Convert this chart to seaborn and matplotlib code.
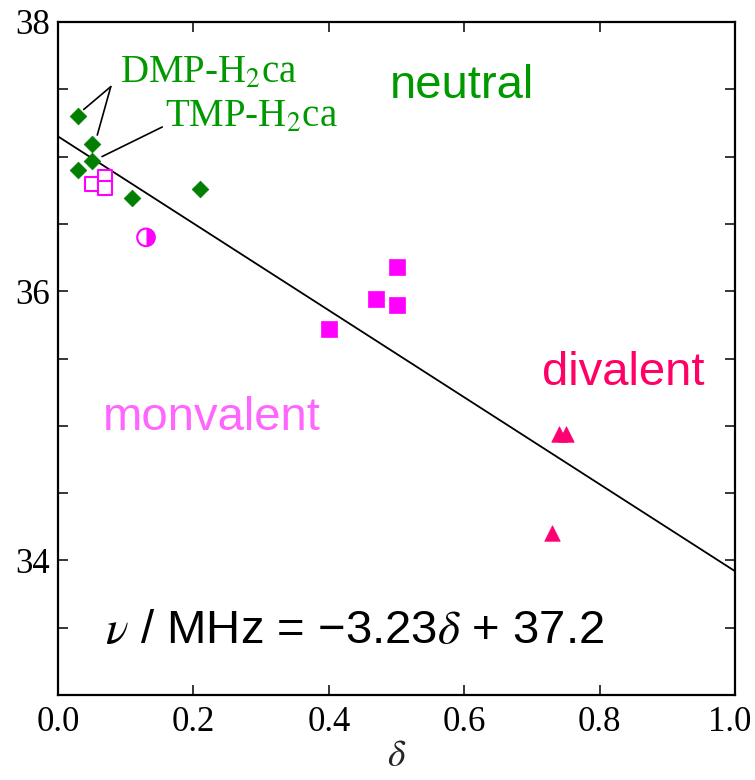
import matplotlib
matplotlib.use("Agg")
import matplotlib.pyplot as plt
from matplotlib.markers import MarkerStyle
from matplotlib.ticker import MultipleLocator, FixedLocator
from matplotlib.transforms import ScaledTranslation
import seaborn as sns
import pandas as pd

# ---- data ----
neutral_x = [0.03, 0.05, 0.05, 0.03, 0.11, 0.21]
neutral_y = [37.30, 37.09, 36.97, 36.90, 36.69, 36.76]

mono_open_x = [0.05, 0.07, 0.07]
mono_open_y = [36.80, 36.85, 36.77]

mono_half_x = [0.13]
mono_half_y = [36.40]

mono_fill_x = [0.50, 0.47, 0.50, 0.40]
mono_fill_y = [36.18, 35.94, 35.90, 35.72]

div_x = [0.74, 0.75, 0.73]
div_y = [34.94, 34.94, 34.20]

fit_x = [0.0, 1.0]
fit_y = [37.15, 33.92]

xticks = [0.0, 0.2, 0.4, 0.6, 0.8, 1.0]
xticklabels = ["0.0", "0.2", "0.4", "0.6", "0.8", "1.0"]
yticks = [34, 36, 38]
yticklabels = ["34", "36", "38"]

GREEN = "#007F00"
GREEN_TXT = "#009900"
MAG = "#FF00FF"
MAG_TXT = "#FF66FF"
DIV = "#FF0073"
DIV_TXT = "#FF0066"

sns.set_theme(style="white")
plt.rcParams["font.family"] = ["Liberation Serif", "DejaVu Serif"]
plt.rcParams["mathtext.fontset"] = "stix"

fig = plt.figure(figsize=(7.55, 7.80), dpi=100)
ax = fig.add_axes([58 / 755, 1 - 695 / 780, 677 / 755, 673 / 780])

# fit line
sns.lineplot(x=fit_x, y=fit_y, ax=ax, color="black", linewidth=1.3, zorder=2)

# neutral diamonds
sns.scatterplot(x=neutral_x, y=neutral_y, ax=ax, marker="D", s=72,
                color=GREEN, edgecolor=GREEN, linewidth=0.5, zorder=3)
# monovalent open squares
sns.scatterplot(x=mono_open_x, y=mono_open_y, ax=ax, marker="s", s=110,
                facecolor="white", edgecolor=MAG, linewidth=1.5, zorder=3)
# monovalent filled squares
sns.scatterplot(x=mono_fill_x, y=mono_fill_y, ax=ax, marker="s", s=120,
                color=MAG, edgecolor=MAG, linewidth=0.5, zorder=3)
# half-filled circle
sns.scatterplot(x=mono_half_x, y=mono_half_y, ax=ax,
                marker=MarkerStyle("o", fillstyle="right"), s=160,
                color=MAG, edgecolor=MAG, linewidth=0, zorder=3)
sns.scatterplot(x=mono_half_x, y=mono_half_y, ax=ax, marker="o", s=160,
                facecolor="none", edgecolor=MAG, linewidth=1.5, zorder=4)
# divalent triangles
sns.scatterplot(x=div_x, y=div_y, ax=ax, marker="^", s=125,
                color=DIV, edgecolor=DIV, linewidth=0.5, zorder=3)

ax.set_xlim(0, 1.0)
ax.set_ylim(33, 38)
ax.xaxis.set_major_locator(FixedLocator(xticks))
ax.set_xticklabels(xticklabels)
ax.yaxis.set_major_locator(FixedLocator(yticks))
ax.set_yticklabels(yticklabels)
ax.yaxis.set_minor_locator(MultipleLocator(0.5))

for side in ["left", "right", "top", "bottom"]:
    ax.spines[side].set_visible(True)
    ax.spines[side].set_color("black")
    ax.spines[side].set_linewidth(1.6)

ax.tick_params(axis="both", which="both", direction="in", top=True, right=True,
               bottom=True, left=True, length=7, width=1.1, color="black",
               labelsize=25, labelcolor="black")
ax.tick_params(axis="x", pad=8)
ax.tick_params(axis="y", pad=6)

# keep the last x tick label inside the canvas
last = ax.get_xticklabels()[-1]
last.set_transform(last.get_transform() + ScaledTranslation(-4 / 72, 0, fig.dpi_scale_trans))

ax.set_xlabel(r"$\delta$", fontsize=27, labelpad=0)
ax.set_ylabel("")

sans = ["Liberation Sans", "DejaVu Sans"]
ax.text(0.49, 37.435, "neutral", color=GREEN_TXT, fontsize=34, family=sans,
        ha="left", va="baseline")
ax.text(0.715, 35.30, "divalent", color=DIV_TXT, fontsize=34, family=sans,
        ha="left", va="baseline")
ax.text(0.066, 34.97, "monvalent", color=MAG_TXT, fontsize=34, family=sans,
        ha="left", va="baseline")
ax.text(0.069, 33.39, r"$\nu$ / MHz = −3.23$\delta$ + 37.2", color="black",
        fontsize=34, family=sans, ha="left", va="baseline")

ax.text(0.0916, 37.547, r"DMP-H$_2$ca", color=GREEN_TXT, fontsize=28,
        ha="left", va="baseline")
ax.text(0.158, 37.22, r"TMP-H$_2$ca", color=GREEN_TXT, fontsize=28,
        ha="left", va="baseline")

# leader lines
for (x0, y0), (x1, y1) in [((0.078, 37.52), (0.038, 37.35)),
                           ((0.078, 37.52), (0.058, 37.16)),
                           ((0.154, 37.22), (0.065, 37.00))]:
    ax.annotate("", xy=(x1, y1), xytext=(x0, y0),
                arrowprops=dict(arrowstyle="-", color="black", lw=1.2,
                                shrinkA=0, shrinkB=0))

fig.savefig("out.png", dpi=100)
